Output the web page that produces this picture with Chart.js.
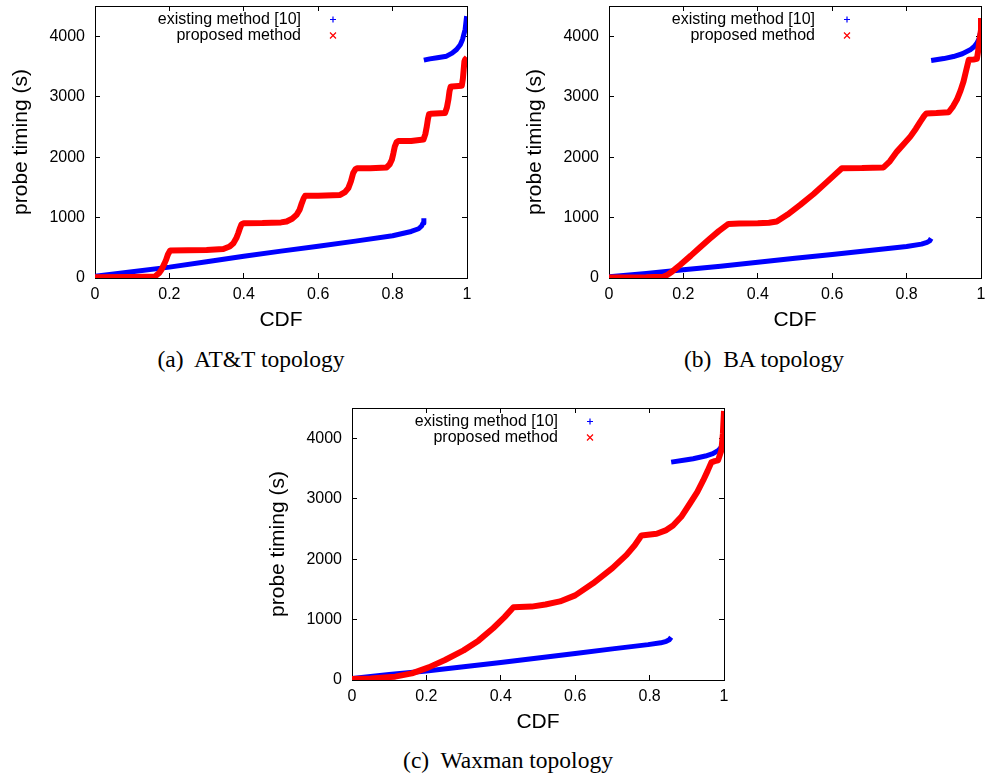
<!DOCTYPE html>
<html>
<head>
<meta charset="utf-8">
<script src="https://cdn.jsdelivr.net/npm/chart.js@4.4.1/dist/chart.umd.min.js"></script>
<style>
  html, body { margin: 0; padding: 0; background: #fff; }
  body { width: 987px; height: 778px; position: relative; overflow: hidden; }
  canvas { position: absolute; }
  .cap { position: absolute; font-family: "Liberation Serif", "Times New Roman", serif; font-size: 23.5px; line-height: 22px; color: #000; white-space: pre; transform: translateX(-50%); }
</style>
</head>
<body>
<canvas id="cA" width="490" height="340" style="left:0px;top:0px;"></canvas>
<canvas id="cB" width="497" height="340" style="left:490px;top:0px;"></canvas>
<canvas id="cC" width="490" height="340" style="left:257px;top:402px;"></canvas>
<div class="cap" id="capA" style="left:251px;top:348px;"></div>
<div class="cap" id="capB" style="left:764px;top:348px;"></div>
<div class="cap" id="capC" style="left:508px;top:749px;"></div>
<script>
// ---------- tick labels ----------
const xTicks = [0, 0.2, 0.4, 0.6, 0.8, 1];
const yTicks = [0, 1000, 2000, 3000, 4000];
const seriesLabels = ['existing method [10]', 'proposed method'];
const captions = ['(a)  AT&T topology', '(b)  BA topology', '(c)  Waxman topology'];

// ---------- (a) AT&T topology ----------
const attExistingCdf  = [0, 0.1, 0.2, 0.3, 0.4, 0.5, 0.6, 0.7, 0.8, 0.85, 0.87, 0.878, 0.882, 0.884, 0.884, 0.884, 0.9, 0.92, 0.945, 0.96, 0.972, 0.982, 0.988, 0.995, 0.999];
const attExistingTime = [30, 105, 180, 270, 360, 445, 525, 610, 700, 770, 815, 860, 910, 990, null, 3604, 3625, 3645, 3670, 3720, 3781, 3860, 3947, 4113, 4333];

const attProposedCdf  = [0, 0.1, 0.161, 0.172, 0.179, 0.186, 0.191, 0.196, 0.202, 0.25, 0.3, 0.345, 0.362, 0.372, 0.38, 0.385, 0.39, 0.394, 0.4,
                         0.45, 0.5, 0.515, 0.53, 0.542, 0.55, 0.556, 0.561, 0.565, 0.6, 0.659, 0.672, 0.681, 0.688, 0.694, 0.7, 0.705,
                         0.74, 0.784, 0.792, 0.798, 0.802, 0.806, 0.811, 0.815, 0.85, 0.883, 0.888, 0.892, 0.895, 0.898, 0.902,
                         0.941, 0.946, 0.95, 0.953, 0.956, 0.96, 0.986, 0.989, 0.991, 0.993, 0.995, 1.0];
const attProposedTime = [12, 15, 25, 80, 140, 230, 300, 390, 455, 458, 462, 480, 520, 575, 660, 740, 830, 890, 907,
                         910, 920, 935, 980, 1045, 1130, 1240, 1320, 1360, 1362, 1375, 1420, 1487, 1600, 1736, 1800, 1815,
                         1817, 1830, 1880, 1957, 2060, 2177, 2250, 2265, 2268, 2290, 2380, 2509, 2630, 2710, 2717,
                         2730, 2820, 2952, 3090, 3165, 3170, 3180, 3300, 3440, 3580, 3615, 3650];

// ---------- (b) BA topology ----------
const baExistingCdf  = [0, 0.1, 0.2, 0.3, 0.4, 0.5, 0.6, 0.7, 0.8, 0.84, 0.855, 0.862, 0.866, 0.866, 0.866, 0.9, 0.926, 0.95, 0.971, 0.982, 0.989, 0.995, 0.998];
const baExistingTime = [20, 75, 135, 195, 260, 325, 390, 455, 520, 560, 590, 615, 655, null, 3598, 3630, 3664, 3710, 3775, 3830, 3886, 3960, 4051];

const baProposedCdf  = [0, 0.1, 0.146, 0.158, 0.169, 0.18, 0.191, 0.22, 0.245, 0.27, 0.295, 0.321, 0.35, 0.4, 0.43, 0.451,
                        0.48, 0.514, 0.55, 0.586, 0.626, 0.68, 0.738, 0.755, 0.774, 0.793, 0.81, 0.825, 0.837, 0.847, 0.853,
                        0.88, 0.913, 0.925, 0.935, 0.945, 0.953, 0.96, 0.967, 0.98, 0.989, 0.993, 0.996, 1.0, 1.0];
const baProposedTime = [10, 12, 22, 55, 104, 160, 215, 370, 510, 645, 775, 894, 900, 905, 915, 935,
                        1050, 1209, 1390, 1590, 1815, 1818, 1830, 1930, 2091, 2220, 2339, 2470, 2588, 2680, 2722,
                        2728, 2743, 2840, 2947, 3100, 3250, 3430, 3609, 3615, 3625, 3780, 3940, 4106, 4300];

// ---------- (c) Waxman topology ----------
const waxExistingCdf  = [0, 0.1, 0.2, 0.3, 0.4, 0.5, 0.6, 0.7, 0.796, 0.83, 0.845, 0.853, 0.858, 0.858, 0.858, 0.9, 0.917, 0.95, 0.97, 0.985, 0.993, 1.0];
const waxExistingTime = [25, 90, 150, 220, 290, 365, 440, 515, 585, 615, 640, 665, 706, null, 3605, 3645, 3661, 3705, 3744, 3800, 3854, 3965];

const waxProposedCdf  = [0, 0.05, 0.116, 0.161, 0.206, 0.25, 0.3, 0.34, 0.38, 0.41, 0.434, 0.483, 0.52, 0.559, 0.6, 0.648,
                         0.7, 0.738, 0.76, 0.778, 0.819, 0.845, 0.863, 0.885, 0.908, 0.928, 0.944, 0.956, 0.966, 0.975,
                         0.984, 0.993, 0.997, 1.0];
const waxProposedTime = [17, 25, 55, 110, 209, 331, 490, 651, 860, 1040, 1203, 1214, 1250, 1300, 1400, 1600,
                         1850, 2070, 2230, 2391, 2419, 2480, 2556, 2700, 2916, 3110, 3302, 3460, 3600, 3620,
                         3633, 3799, 4075, 4450];

// ---------- drawing ----------
const FAM = '"Liberation Sans", Arial, Helvetica, sans-serif';
Chart.defaults.font.family = FAM;
Chart.defaults.color = '#000';

document.getElementById('capA').textContent = captions[0];
document.getElementById('capB').textContent = captions[1];
document.getElementById('capC').textContent = captions[2];

const toPoints = (xs, ys) => xs.map((x, i) => ({ x: x, y: ys[i] }));

function zeroPad(s) { s.paddingLeft = 0; s.paddingRight = 0; s.paddingTop = 0; s.paddingBottom = 0; }

const gpLegend = {
  id: 'gpLegend',
  afterDatasetsDraw(chart) {
    const ctx = chart.ctx, a = chart.chartArea;
    ctx.save();
    ctx.font = '16px ' + FAM;
    ctx.textAlign = 'right';
    ctx.textBaseline = 'middle';
    chart.data.datasets.forEach((ds, i) => {
      const y = a.top + 13.5 + i * 16;
      ctx.fillStyle = '#000';
      ctx.fillText(ds.label, a.left + 206, y);
      const mx = a.left + 238, s = 3;
      ctx.strokeStyle = ds.borderColor;
      ctx.lineWidth = 1.2;
      ctx.beginPath();
      if (i === 0) {
        ctx.moveTo(mx - s, y); ctx.lineTo(mx + s, y);
        ctx.moveTo(mx, y - s); ctx.lineTo(mx, y + s);
      } else {
        ctx.moveTo(mx - s, y - s); ctx.lineTo(mx + s, y + s);
        ctx.moveTo(mx - s, y + s); ctx.lineTo(mx + s, y - s);
      }
      ctx.stroke();
    });
    ctx.restore();
  }
};

function axisCommon(ticks) {
  return {
    type: 'linear',
    afterBuildTicks: s => { s.ticks = ticks.map(v => ({ value: v })); },
    grid: { drawOnChartArea: false, drawTicks: true, tickLength: -5, color: '#000', lineWidth: 1 },
    border: { display: true, color: '#000', width: 1 }
  };
}

function makeChart(id, padLeft, padRight, existing, proposed) {
  new Chart(document.getElementById(id), {
    type: 'scatter',
    data: {
      datasets: [
        { label: seriesLabels[0], data: existing, showLine: true, borderColor: '#0000ff', backgroundColor: '#0000ff',
          borderWidth: 5, pointRadius: 0, spanGaps: false, order: 1, borderCapStyle: 'butt', borderJoinStyle: 'round' },
        { label: seriesLabels[1], data: proposed, showLine: true, borderColor: '#ff0000', backgroundColor: '#ff0000',
          borderWidth: 6, pointRadius: 0, spanGaps: false, order: 0, borderCapStyle: 'butt', borderJoinStyle: 'round' }
      ]
    },
    options: {
      responsive: false,
      animation: false,
      devicePixelRatio: 1,
      layout: { padding: { left: padLeft, top: 6, right: padRight, bottom: 0 } },
      plugins: { legend: { display: false }, tooltip: { enabled: false } },
      scales: {
        x: Object.assign(axisCommon(xTicks), {
          position: 'bottom', min: 0, max: 1,
          ticks: { font: { size: 16 }, color: '#000', padding: 12, maxRotation: 0, autoSkip: false, callback: v => String(v) },
          title: { display: true, text: 'CDF', font: { size: 21 }, color: '#000', padding: { top: 0, bottom: 7 } },
          afterFit: s => { s.height = 62; zeroPad(s); }
        }),
        y: Object.assign(axisCommon(yTicks), {
          position: 'left', min: 0, max: 4500,
          ticks: { font: { size: 16 }, color: '#000', padding: 15, autoSkip: false, callback: v => String(v) },
          title: { display: true, text: 'probe timing (s)', font: { size: 21 }, color: '#000', padding: 9 },
          afterFit: s => { s.width = 95; zeroPad(s); }
        }),
        x2: Object.assign(axisCommon(xTicks), {
          position: 'top', min: 0, max: 1,
          ticks: { display: false },
          afterFit: s => { s.height = 0; zeroPad(s); }
        }),
        y2: Object.assign(axisCommon(yTicks), {
          position: 'right', min: 0, max: 4500,
          ticks: { display: false },
          afterFit: s => { s.width = 0; zeroPad(s); }
        })
      }
    },
    plugins: [gpLegend]
  });
}

makeChart('cA', 0, 23, toPoints(attExistingCdf, attExistingTime), toPoints(attProposedCdf, attProposedTime));
makeChart('cB', 24, 6, toPoints(baExistingCdf, baExistingTime), toPoints(baProposedCdf, baProposedTime));
makeChart('cC', 0, 23, toPoints(waxExistingCdf, waxExistingTime), toPoints(waxProposedCdf, waxProposedTime));
</script>
</body>
</html>
